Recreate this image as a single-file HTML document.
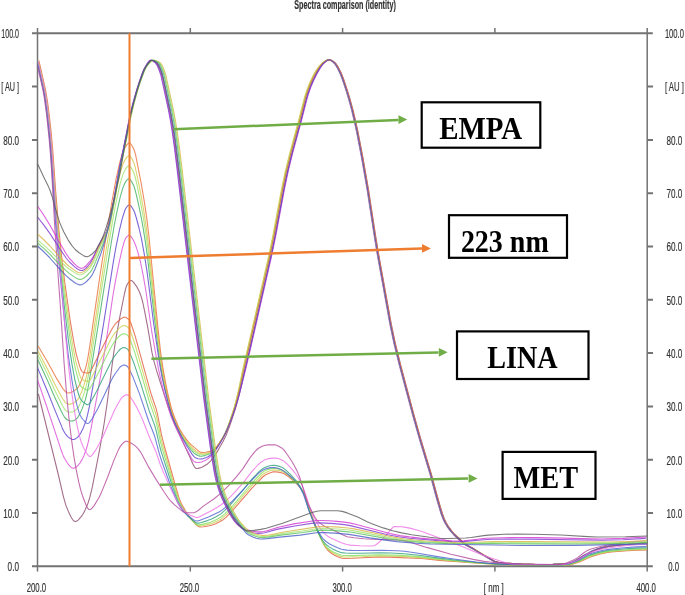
<!DOCTYPE html>
<html><head><meta charset="utf-8">
<style>
html,body{margin:0;padding:0;background:#fff;width:685px;height:595px;overflow:hidden}
svg{display:block;will-change:transform}
.ax{font-family:"Liberation Sans",sans-serif;font-size:12px;fill:#333;stroke:#333;stroke-width:0.18px}
.bx{font-family:"Liberation Serif",serif;font-weight:bold;fill:#000}
</style></head><body>
<svg width="685" height="595" viewBox="0 0 685 595">
<rect width="685" height="595" fill="#fff"/>
<text class="ax" x="294.3" y="8.7" font-size="10" font-weight="bold" fill="#111" textLength="101.5" lengthAdjust="spacingAndGlyphs">Spectra comparison (identity)</text>
<g stroke="#737373" fill="none">
<path stroke-width="2.1" d="M32 33.3H652.8M32 566.3H652.8"/>
<path stroke-width="1.5" d="M37.5 28V571.5M647.2 28V571.5"/>
<path stroke-width="2" d="M32 86.6H37.5M32 139.9H37.5M32 193.2H37.5M32 246.5H37.5M32 299.8H37.5M32 353.1H37.5M32 406.4H37.5M32 459.7H37.5M32 513H37.5"/>
<path stroke-width="2" d="M647.2 86.6H653M647.2 139.9H653M647.2 193.2H653M647.2 246.5H653M647.2 299.8H653M647.2 353.1H653M647.2 406.4H653M647.2 459.7H653M647.2 513H653"/>
<path stroke-width="1.5" d="M190.3 566.3V571.5M342.6 566.3V571.5M494.9 566.3V571.5M190.3 33.3V28M342.6 33.3V28M494.9 33.3V28"/>
</g>
<g class="ax" text-anchor="end">
<text x="19" y="38.1" textLength="17.7" lengthAdjust="spacingAndGlyphs">100.0</text>
<text x="19" y="91.4" textLength="17.7" lengthAdjust="spacingAndGlyphs">[ AU ]</text>
<text x="19" y="144.7" textLength="15.8" lengthAdjust="spacingAndGlyphs">80.0</text>
<text x="19" y="198" textLength="15.8" lengthAdjust="spacingAndGlyphs">70.0</text>
<text x="19" y="251.3" textLength="15.8" lengthAdjust="spacingAndGlyphs">60.0</text>
<text x="19" y="304.6" textLength="15.8" lengthAdjust="spacingAndGlyphs">50.0</text>
<text x="19" y="357.9" textLength="15.8" lengthAdjust="spacingAndGlyphs">40.0</text>
<text x="19" y="411.2" textLength="15.8" lengthAdjust="spacingAndGlyphs">30.0</text>
<text x="19" y="464.5" textLength="15.8" lengthAdjust="spacingAndGlyphs">20.0</text>
<text x="19" y="517.8" textLength="15.8" lengthAdjust="spacingAndGlyphs">10.0</text>
<text x="19" y="571.1" textLength="11.4" lengthAdjust="spacingAndGlyphs">0.0</text>
</g>
<g class="ax" text-anchor="middle">
<text x="674.4" y="38.1" textLength="19" lengthAdjust="spacingAndGlyphs">100.0</text>
<text x="674.4" y="91.4" textLength="19" lengthAdjust="spacingAndGlyphs">[ AU ]</text>
<text x="674.4" y="144.7" textLength="15.8" lengthAdjust="spacingAndGlyphs">80.0</text>
<text x="674.4" y="198" textLength="15.8" lengthAdjust="spacingAndGlyphs">70.0</text>
<text x="674.4" y="251.3" textLength="15.8" lengthAdjust="spacingAndGlyphs">60.0</text>
<text x="674.4" y="304.6" textLength="15.8" lengthAdjust="spacingAndGlyphs">50.0</text>
<text x="674.4" y="357.9" textLength="15.8" lengthAdjust="spacingAndGlyphs">40.0</text>
<text x="674.4" y="411.2" textLength="15.8" lengthAdjust="spacingAndGlyphs">30.0</text>
<text x="674.4" y="464.5" textLength="15.8" lengthAdjust="spacingAndGlyphs">20.0</text>
<text x="674.4" y="517.8" textLength="15.8" lengthAdjust="spacingAndGlyphs">10.0</text>
<text x="673.6" y="571.1" textLength="10.8" lengthAdjust="spacingAndGlyphs">0.0</text>
<text x="36.4" y="591.5" textLength="19.5" lengthAdjust="spacingAndGlyphs">200.0</text>
<text x="189.4" y="591.5" textLength="19.5" lengthAdjust="spacingAndGlyphs">250.0</text>
<text x="342.2" y="591.5" textLength="19.5" lengthAdjust="spacingAndGlyphs">300.0</text>
<text x="493.8" y="591.5" textLength="20" lengthAdjust="spacingAndGlyphs">[ nm ]</text>
<text x="646.2" y="591.5" textLength="19.5" lengthAdjust="spacingAndGlyphs">400.0</text>
</g>
<defs><clipPath id="pc"><rect x="37.6" y="20" width="609.4" height="560"/></clipPath></defs>
<g id="curves" clip-path="url(#pc)">
<path d="M38.4 394.0L58.4 475.0 63.4 496.6 65.9 505.4 68.4 511.4 70.9 516.7 72.4 519.3 73.9 521.0 74.9 521.5 75.4 521.6 76.9 521.1 78.4 519.8 81.4 516.4 82.9 514.2 84.4 511.6 87.9 503.5 89.9 497.2 92.4 486.7 99.9 448.1 103.9 425.0 106.9 404.8 113.9 351.5 116.4 335.9 119.4 319.0 124.4 294.0 125.9 287.6 126.9 285.0 128.9 281.9 130.4 280.5 131.4 280.5 132.4 281.1 133.4 282.1 136.9 286.9 139.4 291.8 141.4 297.1 142.9 303.0 144.9 312.7 147.9 328.4 151.9 352.2 153.9 361.1 156.9 371.6 166.4 401.5 170.9 414.7 174.4 423.6 189.4 456.0 192.9 464.0 194.4 466.8 195.4 468.0 196.4 468.5 197.9 468.4 199.9 467.9 202.4 466.9 207.4 464.0 208.9 462.7 210.9 460.7 214.4 456.1 217.9 450.6 222.9 441.8 225.9 435.7 228.8 428.4 231.7 420.1 235.6 408.0 238.0 399.4 240.9 387.6 252.2 338.5 271.2 254.9 275.2 235.3 283.7 189.7 287.7 170.6 292.2 152.3 300.7 121.1 305.7 101.4 307.7 94.2 310.2 87.1 313.2 80.0 316.7 73.1 319.8 68.1 322.9 64.0 325.6 61.7 327.1 60.6 328.7 59.9 329.8 59.7 330.8 59.9 332.9 60.9 335.9 63.5 337.9 66.5 340.9 72.3 343.9 79.8 347.4 90.3 349.9 98.6 352.9 109.7 355.4 120.0 357.9 131.4 362.9 157.3 368.4 188.8 375.9 237.5 378.9 255.6 391.4 324.7 395.4 343.6 400.9 365.8 414.4 416.4 420.9 439.4 431.4 474.1 437.4 496.5 440.4 506.9 442.4 513.5 444.4 518.9 446.4 523.0 448.9 527.2 451.9 531.2 454.9 534.5 463.4 542.5 466.9 545.1 474.4 549.1 485.9 556.1 494.9 561.2 496.9 561.9 498.9 562.3 506.9 563.2 522.9 564.1 536.9 564.5 553.9 564.4 567.9 563.9 571.4 562.9 576.9 560.5 585.4 555.3 593.4 551.1 598.4 549.1 603.4 547.6 609.9 546.3 618.9 545.2 635.4 543.7 647.9 543.0" stroke="#8c4a6e" stroke-width="1.10" fill="none" stroke-linejoin="round" opacity="0.80"/>
<path d="M36.9 378.2L46.9 407.0 61.4 450.8 62.9 454.9 64.4 458.3 66.9 462.3 68.9 465.2 70.9 467.2 72.4 468.1 73.9 468.2 76.4 466.9 78.4 465.0 80.4 462.4 81.9 459.9 83.9 455.7 86.4 449.0 88.4 441.4 90.9 429.3 97.4 394.0 101.9 368.3 104.9 349.8 112.9 295.7 115.9 278.6 119.4 261.1 122.4 248.2 124.4 241.1 125.4 238.8 126.9 236.6 128.4 235.4 129.4 235.3 130.4 235.9 131.4 237.1 133.4 240.2 134.4 242.3 135.9 246.2 137.9 252.4 140.4 261.5 142.9 273.9 145.9 291.0 151.9 332.5 158.4 368.6 161.4 382.4 164.4 394.4 168.4 408.4 171.4 417.4 175.4 426.8 183.4 443.3 191.4 458.1 192.9 460.4 193.9 461.5 194.9 462.1 197.4 462.5 199.4 462.4 201.4 462.0 204.4 460.8 206.4 459.8 208.9 458.0 211.4 455.7 214.9 451.2 218.9 445.0 222.9 437.9 226.6 430.3 230.3 421.2 234.6 409.5 237.3 401.3 240.0 391.8 245.9 368.5 250.9 347.1 271.4 257.2 275.9 235.3 284.9 187.1 288.4 170.6 292.9 152.3 301.4 121.1 306.4 101.4 308.4 94.2 310.9 87.1 313.9 80.0 316.9 74.0 321.1 66.6 323.4 63.4 326.0 61.0 327.8 59.9 328.7 59.7 329.6 59.9 331.0 60.6 332.9 62.1 334.9 64.2 337.4 68.3 339.9 73.4 342.9 81.3 346.4 91.9 348.9 100.3 351.4 109.7 353.9 120.0 356.4 131.4 361.4 157.3 366.9 188.8 374.4 237.5 377.4 255.6 389.9 324.7 393.9 343.6 399.4 365.8 412.9 416.4 419.4 439.4 429.9 474.1 435.9 496.5 438.9 506.9 440.9 513.5 442.9 518.9 444.9 523.0 447.4 527.2 450.4 531.2 453.4 534.5 461.9 542.5 465.4 545.1 472.9 549.1 484.4 556.1 493.4 561.2 495.4 561.9 497.4 562.3 505.4 563.2 521.4 564.1 535.4 564.5 552.4 564.4 566.4 563.9 569.9 562.9 575.4 560.5 583.9 555.3 591.9 551.1 596.9 549.1 601.9 547.6 608.4 546.3 617.4 545.2 633.9 543.7 646.4 543.0" stroke="#d94fd6" stroke-width="1.10" fill="none" stroke-linejoin="round" opacity="0.80"/>
<path d="M37.3 358.5L46.8 378.9 54.3 396.2 61.3 411.3 63.3 415.2 64.8 417.5 66.8 419.5 68.8 420.5 70.8 421.0 72.8 420.9 74.8 420.0 76.8 418.5 78.3 416.6 79.8 414.0 82.3 408.4 85.3 399.9 86.8 394.0 88.3 386.5 90.3 374.7 111.3 242.5 114.3 225.0 116.8 212.4 120.3 196.6 122.8 188.1 124.3 184.3 125.8 181.4 126.8 180.1 127.8 179.2 128.8 178.9 129.3 179.0 130.3 179.7 131.8 181.9 133.8 185.8 134.8 188.8 136.3 194.6 139.3 207.8 142.3 223.0 145.3 241.3 147.3 255.4 153.8 312.5 157.8 345.7 159.8 360.3 161.8 372.3 164.3 385.1 167.8 400.2 170.8 411.1 172.8 416.8 175.3 423.0 177.8 428.5 180.8 434.3 183.8 439.4 186.8 444.0 190.8 449.5 193.8 452.9 195.3 454.1 197.8 455.5 199.8 456.1 201.3 456.2 204.8 455.6 207.8 454.6 211.3 452.9 213.3 451.3 215.8 448.4 218.8 444.1 222.8 437.6 225.3 432.8 228.1 425.9 231.0 418.1 234.3 408.0 236.7 399.7 239.5 387.9 243.8 368.5 251.3 336.3 269.8 254.9 273.8 235.3 282.3 189.7 286.3 170.6 290.8 152.3 299.3 121.1 304.3 101.4 306.3 94.2 308.8 87.1 311.8 80.0 315.3 73.1 318.4 68.1 321.6 64.0 324.3 61.7 325.9 60.6 327.5 59.9 328.6 59.7 329.7 59.9 331.8 60.9 334.8 63.5 336.8 66.5 339.8 72.3 342.8 79.8 346.3 90.3 348.8 98.6 351.8 109.7 354.3 120.0 356.8 131.4 361.8 157.3 367.3 188.8 374.8 237.5 377.8 255.6 390.3 324.7 394.3 343.6 399.8 365.8 413.3 416.4 419.8 439.4 430.3 474.1 436.3 496.5 439.3 506.9 441.3 513.5 443.3 518.9 445.3 523.0 447.8 527.2 450.8 531.2 453.8 534.5 462.3 542.5 465.8 545.1 473.3 549.1 484.8 556.1 493.8 561.2 495.8 561.9 497.8 562.3 505.8 563.2 521.8 564.1 535.8 564.5 552.8 564.4 566.8 563.9 570.3 562.9 575.8 560.5 584.3 555.3 592.3 551.1 597.3 549.1 602.3 547.6 608.8 546.3 617.8 545.2 634.3 543.7 646.8 543.0" stroke="#3fae62" stroke-width="1.10" fill="none" stroke-linejoin="round" opacity="0.80"/>
<path d="M37.5 354.0L47.0 373.3 55.5 391.8 62.5 405.8 65.0 409.7 66.5 411.1 68.5 412.0 71.0 412.2 73.0 411.7 75.0 410.6 77.0 409.0 78.5 406.9 80.0 404.0 82.5 398.0 85.0 390.6 86.5 384.8 88.0 377.3 90.0 365.3 100.5 296.2 110.0 236.6 113.5 215.7 116.5 200.1 120.0 184.4 122.5 175.6 124.5 170.9 126.0 168.2 127.0 167.0 128.0 166.2 129.0 165.9 129.5 166.1 131.0 167.5 132.5 170.1 134.0 173.3 135.0 176.5 136.5 182.7 140.0 199.3 143.0 215.5 146.0 234.6 148.0 249.9 157.5 337.3 160.0 357.3 162.0 370.0 164.5 383.4 167.5 397.0 170.5 408.6 172.5 414.7 175.0 421.2 177.5 426.8 180.5 432.7 183.5 437.8 187.0 442.9 191.0 447.9 194.0 451.0 196.0 452.7 198.5 454.1 200.5 454.8 202.0 454.8 206.0 454.2 209.5 453.0 212.0 451.9 214.0 450.2 216.5 447.2 219.0 443.7 222.5 438.2 225.0 433.6 227.8 427.0 230.5 419.4 234.2 408.0 236.0 401.5 238.8 390.0 243.4 368.5 269.4 254.9 273.4 235.3 281.9 189.7 285.4 172.8 289.9 154.3 299.4 119.2 305.4 95.9 307.4 89.8 310.4 82.2 313.4 75.9 316.4 70.5 319.7 65.9 322.5 62.9 325.3 61.0 327.0 60.1 328.7 59.7 329.8 59.9 332.0 60.9 335.0 63.5 337.0 66.5 340.0 72.3 343.0 79.8 346.5 90.3 349.0 98.6 352.0 109.7 354.5 120.0 357.0 131.4 362.0 157.3 367.5 188.8 375.0 237.5 378.0 255.6 390.5 324.7 394.5 343.6 400.0 365.8 413.5 416.4 420.0 439.4 430.5 474.1 436.5 496.5 439.5 506.9 441.5 513.5 443.5 518.9 445.5 523.0 448.0 527.2 451.0 531.2 454.0 534.5 462.5 542.5 466.0 545.1 473.5 549.1 485.0 556.1 494.0 561.2 496.0 561.9 498.0 562.3 506.0 563.2 522.0 564.1 536.0 564.5 553.0 564.4 567.0 563.9 570.5 562.9 576.0 560.5 584.5 555.3 592.5 551.1 597.5 549.1 602.5 547.6 609.0 546.3 618.0 545.2 634.5 543.7 647.0 543.0" stroke="#9ee36a" stroke-width="1.10" fill="none" stroke-linejoin="round" opacity="0.80"/>
<path d="M37.7 350.5L47.2 368.5 55.7 386.0 62.7 398.8 65.2 402.4 66.7 403.6 68.2 404.1 70.2 404.1 72.7 403.4 74.7 402.3 76.7 400.8 78.2 398.9 79.7 396.2 82.2 390.2 85.2 381.1 86.7 375.1 88.2 367.2 104.2 261.6 112.2 212.6 116.2 191.1 120.2 173.3 121.7 167.7 122.7 164.8 125.2 159.6 126.7 157.4 128.2 156.1 129.2 155.9 129.7 156.0 131.2 157.6 132.7 160.3 134.2 163.6 135.2 167.0 140.2 190.8 143.7 210.4 146.2 226.9 148.2 242.5 157.7 333.8 160.2 355.0 162.2 368.2 164.7 382.1 167.7 396.1 170.7 408.0 172.7 414.2 175.2 420.7 177.7 426.4 180.2 431.3 183.2 436.3 186.7 441.4 190.2 445.6 193.2 448.6 195.7 450.9 197.7 452.3 199.7 453.4 201.7 453.8 205.2 453.5 209.2 452.5 212.2 451.3 214.2 449.7 216.7 446.9 219.2 443.4 222.7 438.0 225.2 433.4 227.9 426.9 230.5 419.3 234.1 408.0 235.8 401.5 238.9 388.0 242.9 368.5 250.9 334.1 269.4 252.6 272.9 235.3 281.4 189.7 284.9 172.8 289.4 154.3 298.9 119.2 304.9 95.9 306.9 89.8 309.9 82.2 312.9 75.9 315.9 70.5 319.4 65.9 322.3 62.9 325.2 61.0 327.0 60.1 328.7 59.7 329.9 59.9 332.2 60.9 335.2 63.5 337.2 66.5 340.2 72.3 343.2 79.8 346.7 90.3 349.2 98.6 352.2 109.7 354.7 120.0 357.2 131.4 362.2 157.3 367.7 188.8 375.2 237.5 378.2 255.6 390.7 324.7 394.7 343.6 400.2 365.8 413.7 416.4 420.2 439.4 430.7 474.1 436.7 496.5 439.7 506.9 441.7 513.5 443.7 518.9 445.7 523.0 448.2 527.2 451.2 531.2 454.2 534.5 462.7 542.5 466.2 545.1 473.7 549.1 485.2 556.1 494.2 561.2 496.2 561.9 498.2 562.3 506.2 563.2 522.2 564.1 536.2 564.5 553.2 564.4 567.2 563.9 570.7 562.9 576.2 560.5 584.7 555.3 592.7 551.1 597.7 549.1 602.7 547.6 609.2 546.3 618.2 545.2 634.7 543.7 647.2 543.0" stroke="#d6c84a" stroke-width="1.10" fill="none" stroke-linejoin="round" opacity="0.80"/>
<path d="M38.1 346.0L47.6 362.0 56.1 377.6 62.6 388.1 64.1 390.2 65.6 391.8 67.1 392.8 68.6 393.0 70.6 392.6 73.1 391.4 77.1 388.6 78.6 386.6 80.1 383.7 82.6 377.4 85.6 368.0 86.6 364.1 88.1 356.5 90.1 343.9 100.1 274.7 104.1 248.7 112.1 200.5 116.1 178.9 120.1 161.2 122.6 152.3 124.6 148.2 127.1 144.4 128.6 143.2 129.6 143.0 130.1 143.3 131.6 145.0 133.1 147.8 134.6 151.3 135.6 154.8 141.1 182.8 144.6 203.4 147.1 220.7 149.1 237.7 158.1 329.5 160.6 352.0 162.6 365.9 165.1 380.4 168.1 395.0 171.1 407.1 172.6 412.0 175.1 418.8 177.6 424.7 180.1 429.8 182.6 434.0 185.6 438.3 188.6 442.1 191.1 444.7 198.1 450.7 200.1 451.9 201.6 452.4 203.1 452.5 205.6 452.3 211.1 451.1 213.1 450.3 215.1 448.7 217.6 445.8 220.6 441.5 223.6 436.8 226.1 432.2 228.9 425.5 231.6 417.9 234.9 408.0 237.2 399.7 240.0 388.0 244.2 368.6 270.2 254.9 274.2 235.3 282.7 189.7 286.2 172.8 290.7 154.3 300.2 119.2 306.2 95.9 308.2 89.8 311.2 82.2 314.2 75.9 317.2 70.5 320.5 65.9 323.2 62.9 326.0 61.0 327.6 60.1 329.3 59.7 330.4 59.9 332.6 60.9 335.6 63.5 337.6 66.5 340.6 72.3 343.6 79.8 347.1 90.3 349.6 98.6 352.6 109.7 355.1 120.0 357.6 131.4 362.6 157.3 368.1 188.8 375.6 237.5 378.6 255.6 391.1 324.7 395.1 343.6 400.6 365.8 414.1 416.4 420.6 439.4 431.1 474.1 437.1 496.5 440.1 506.9 442.1 513.5 444.1 518.9 446.1 523.0 448.6 527.2 451.6 531.2 454.6 534.5 463.1 542.5 466.6 545.1 474.1 549.1 485.6 556.1 494.6 561.2 496.6 561.9 498.6 562.3 506.6 563.2 522.6 564.1 536.6 564.5 553.6 564.4 567.6 563.9 571.1 562.9 576.6 560.5 585.1 555.3 593.1 551.1 598.1 549.1 603.1 547.6 609.6 546.3 618.6 545.2 635.1 543.7 647.6 543.0" stroke="#e8703a" stroke-width="1.10" fill="none" stroke-linejoin="round" opacity="0.80"/>
<path d="M37.5 367.6L47.0 390.2 54.0 407.9 62.0 427.4 63.5 430.7 65.0 433.3 67.5 436.3 69.5 438.1 71.5 439.2 72.5 439.5 73.5 439.5 75.0 439.1 77.5 437.4 79.0 435.6 81.0 432.6 83.5 427.4 86.0 420.8 87.5 415.2 89.5 405.8 95.5 371.6 103.5 324.3 113.5 260.8 116.0 246.9 119.5 229.9 122.5 217.6 125.0 210.0 126.0 208.0 127.5 206.0 129.0 205.0 130.0 205.2 131.0 206.1 132.5 208.3 134.0 211.0 135.0 213.5 136.5 218.5 139.0 228.0 141.5 238.9 144.0 252.6 147.0 271.3 153.5 322.3 159.5 363.5 162.0 377.0 164.5 388.5 168.0 402.5 171.0 412.7 173.0 418.2 175.5 424.3 181.5 436.6 187.0 446.3 192.0 454.1 194.5 457.1 195.5 457.8 198.0 458.7 200.0 459.0 202.0 458.9 205.5 457.8 208.0 456.7 211.0 454.8 213.0 453.0 216.0 449.4 220.0 443.2 223.5 437.3 226.5 431.0 229.6 423.7 233.2 414.0 236.2 404.8 238.8 395.8 242.3 381.5 251.4 342.8 270.9 257.2 275.4 235.3 284.4 187.1 287.9 170.6 292.4 152.3 300.9 121.1 305.9 101.4 307.9 94.2 310.4 87.1 313.4 80.0 316.4 74.0 320.3 67.4 322.8 64.0 325.7 61.3 328.1 59.9 329.1 59.7 330.1 59.9 331.5 60.6 333.0 61.7 334.5 63.0 335.5 64.2 338.0 68.3 340.5 73.4 343.5 81.3 347.0 91.9 349.5 100.3 352.0 109.7 354.5 120.0 357.0 131.4 362.0 157.3 367.5 188.8 375.0 237.5 378.0 255.6 390.5 324.7 394.5 343.6 400.0 365.8 413.5 416.4 420.0 439.4 430.5 474.1 436.5 496.5 439.5 506.9 441.5 513.5 443.5 518.9 445.5 523.0 448.0 527.2 451.0 531.2 454.0 534.5 462.5 542.5 466.0 545.1 473.5 549.1 485.0 556.1 494.0 561.2 496.0 561.9 498.0 562.3 506.0 563.2 522.0 564.1 536.0 564.5 553.0 564.4 567.0 563.9 570.5 562.9 576.0 560.5 584.5 555.3 592.5 551.1 597.5 549.1 602.5 547.6 609.0 546.3 618.0 545.2 634.5 543.7 647.0 543.0" stroke="#5b3fcf" stroke-width="1.10" fill="none" stroke-linejoin="round" opacity="0.80"/>
<path d="M38.7 60.5L40.2 66.2 45.7 90.8 47.7 103.1 49.2 114.8 51.2 133.1 52.7 149.6 55.7 191.9 58.7 228.0 61.7 257.6 64.7 282.0 70.2 320.7 73.7 341.5 76.2 354.1 79.7 366.4 81.2 370.2 82.2 371.7 82.7 372.0 85.2 372.7 87.7 373.0 88.7 372.9 89.7 372.2 90.7 370.9 92.2 368.3 104.2 343.9 110.7 331.3 112.7 327.7 114.7 324.7 116.2 323.0 120.2 319.3 122.2 317.9 123.7 317.3 125.2 317.2 126.2 317.6 128.2 319.0 129.7 320.7 131.2 324.0 135.2 336.1 149.7 389.1 151.7 395.8 156.2 408.9 157.7 415.1 161.2 433.4 163.2 442.0 174.2 481.5 178.7 496.9 180.2 501.1 181.7 504.4 185.7 511.2 190.2 517.8 195.2 523.6 197.2 525.6 198.7 526.6 200.2 527.0 203.7 526.7 209.2 525.8 212.2 525.0 215.7 523.7 219.7 521.8 222.7 520.1 226.2 517.1 232.7 510.4 252.2 487.9 262.7 477.0 265.7 474.8 269.7 472.9 272.7 471.9 275.2 471.7 278.2 472.1 282.2 473.0 283.7 473.5 285.7 474.7 288.7 476.9 295.2 482.4 298.2 485.4 300.7 488.3 303.7 492.6 305.7 496.3 307.2 500.6 310.7 512.5 314.7 523.6 321.2 539.1 324.7 546.2 325.7 547.7 327.2 549.5 329.2 551.5 331.7 553.5 334.2 555.0 337.7 556.7 340.2 557.7 342.2 558.3 344.2 558.5 352.2 558.3 378.7 557.0 388.7 557.1 421.7 558.5 439.7 560.4 450.2 561.2 482.2 563.5 501.7 564.5 519.2 565.0 567.7 565.0 569.7 564.8 572.2 564.3 580.2 561.7 589.7 557.3 592.7 556.2 600.2 554.0 606.2 552.7 611.2 552.0 627.2 550.7 638.2 550.2 648.2 550.0" stroke="#e25a3c" stroke-width="1.10" fill="none" stroke-linejoin="round" opacity="0.80"/>
<path d="M38.1 60.5L39.6 66.2 45.1 90.8 47.1 103.1 48.6 114.8 50.6 133.1 52.1 149.6 55.6 198.8 58.6 234.7 61.6 264.2 66.1 300.8 70.1 329.6 73.6 350.5 76.1 362.8 79.6 374.9 81.1 378.4 82.1 379.5 84.6 380.7 87.1 381.4 88.1 381.5 89.1 381.0 90.1 379.9 91.6 377.5 110.1 340.7 112.6 336.2 114.6 333.2 119.6 327.9 121.6 326.4 123.1 325.7 124.6 325.4 126.1 325.9 127.6 327.0 129.1 328.5 130.1 330.4 131.1 333.0 135.1 344.7 149.6 395.6 151.1 400.4 155.6 413.2 157.1 419.2 160.6 436.7 162.6 444.9 173.6 482.9 178.1 497.5 179.6 501.5 181.1 504.6 183.1 508.2 186.1 512.7 190.1 518.0 194.6 522.9 196.6 524.8 198.1 525.7 199.6 525.9 203.1 525.5 208.6 524.4 211.6 523.5 215.1 522.1 218.6 520.4 221.6 518.7 225.6 515.4 232.1 508.7 251.6 485.9 261.6 475.5 264.6 473.2 268.6 471.2 272.1 470.1 275.1 470.0 278.1 470.4 281.6 471.3 283.1 471.9 285.1 473.0 288.1 475.4 294.1 480.7 297.1 483.7 299.6 486.6 302.6 491.0 305.1 495.8 306.6 500.1 310.1 512.0 314.1 522.8 316.6 529.0 320.6 538.0 324.1 544.8 325.1 546.3 326.6 548.0 328.6 549.9 331.1 551.8 333.6 553.3 337.1 555.0 339.6 556.1 341.6 556.7 343.6 556.9 349.6 557.0 362.1 556.7 378.1 555.9 391.1 556.1 407.6 556.8 420.1 557.6 447.1 560.5 477.6 563.0 490.1 563.8 506.6 564.6 517.1 564.9 566.6 564.9 568.6 564.7 571.1 564.2 579.1 561.6 582.1 560.3 589.1 556.9 592.1 555.7 599.1 553.7 605.1 552.4 610.6 551.5 626.1 550.2 637.1 549.6 647.6 549.4" stroke="#c9cf4e" stroke-width="1.10" fill="none" stroke-linejoin="round" opacity="0.80"/>
<path d="M37.5 60.5L39.0 66.2 44.5 90.8 46.5 103.1 48.5 119.1 50.0 133.1 51.5 149.6 55.5 206.1 58.5 241.6 62.0 275.5 66.5 313.0 70.0 338.6 73.5 359.5 75.5 369.4 79.0 382.0 80.5 385.7 81.0 386.5 82.0 387.4 84.0 388.7 87.0 390.0 88.0 390.0 89.0 389.4 90.0 388.2 91.5 385.8 98.0 373.4 110.5 348.2 114.0 342.2 116.5 339.2 119.5 336.0 121.0 334.8 122.5 334.0 124.0 333.7 125.5 334.0 127.0 334.9 128.5 336.3 129.5 338.2 130.5 340.6 134.5 351.6 141.5 374.7 149.0 400.5 150.5 405.1 155.0 417.6 156.5 423.3 160.5 442.1 162.0 447.8 173.0 484.2 177.5 498.1 179.0 501.9 180.5 504.9 182.5 508.3 185.0 512.0 189.0 517.1 195.5 523.6 197.5 524.7 199.0 524.9 202.0 524.4 207.5 523.1 210.5 522.2 214.0 520.8 217.5 519.0 221.0 517.0 225.0 513.6 232.0 506.5 251.5 483.5 260.5 474.0 264.0 471.3 267.5 469.6 271.5 468.4 274.5 468.2 277.5 468.6 281.0 469.6 283.0 470.4 284.5 471.4 287.0 473.4 293.0 478.9 296.0 482.0 298.5 485.0 301.5 489.4 304.0 494.1 305.5 498.1 309.5 511.4 313.0 520.8 315.5 527.0 319.0 534.7 323.0 542.6 325.5 546.0 328.0 548.3 330.5 550.2 333.0 551.7 337.0 553.6 339.5 554.6 341.5 555.2 346.0 555.5 352.0 555.6 380.0 554.7 401.5 555.4 419.0 556.6 447.0 560.0 476.0 562.7 488.0 563.6 505.0 564.5 516.0 564.8 562.5 564.9 567.5 564.7 572.0 563.6 579.5 560.9 587.5 556.9 590.5 555.6 598.0 553.4 604.5 551.9 610.0 551.1 626.0 549.7 637.0 549.0 647.0 548.8" stroke="#83e05e" stroke-width="1.10" fill="none" stroke-linejoin="round" opacity="0.80"/>
<path d="M37.0 60.5L38.5 66.2 44.0 90.8 45.5 99.7 47.0 110.6 49.0 128.2 51.0 149.6 55.0 207.4 57.5 238.5 60.0 265.2 64.5 308.1 68.5 341.0 72.0 364.3 75.0 380.5 77.5 390.5 79.0 395.5 80.5 399.0 81.5 400.3 83.0 401.9 85.5 403.8 87.0 404.7 88.0 404.6 89.0 404.0 90.0 402.9 91.0 401.4 96.5 391.5 110.5 363.0 114.0 356.8 119.0 350.5 120.5 349.0 122.0 348.1 123.5 347.6 125.0 347.7 126.5 348.4 128.0 349.6 129.0 351.2 130.0 353.4 134.5 364.8 141.0 384.3 149.0 410.2 154.5 424.9 156.0 430.2 160.0 447.5 161.5 452.7 172.0 485.0 177.0 499.1 178.5 502.6 180.0 505.3 182.0 508.5 184.5 512.0 188.0 516.1 194.0 521.4 195.5 522.5 197.0 523.1 198.5 523.1 200.5 522.7 207.5 520.6 211.5 519.0 216.0 516.8 220.5 514.1 224.5 510.7 232.0 503.0 243.5 489.4 251.0 480.2 259.5 471.2 263.0 468.4 266.5 466.7 270.5 465.5 274.0 465.3 276.5 465.6 279.5 466.4 282.0 467.3 284.0 468.6 286.5 470.7 291.5 475.6 296.5 481.2 300.0 486.3 303.5 493.1 305.0 497.3 309.0 510.5 312.5 519.6 315.0 525.6 317.5 530.9 320.0 536.0 322.0 539.5 323.5 541.7 325.0 543.5 327.0 545.3 329.5 547.1 332.5 548.9 337.0 551.0 339.5 552.0 341.5 552.6 345.5 553.0 349.5 553.2 361.0 553.3 380.0 552.8 391.0 553.0 404.5 553.7 419.0 555.2 439.0 558.1 456.5 560.2 480.5 562.8 496.0 563.9 516.5 564.7 560.5 564.9 566.5 564.5 571.0 563.5 578.5 560.7 587.0 556.2 590.0 554.9 597.0 552.8 603.5 551.3 609.5 550.3 625.5 548.8 636.5 548.1 646.5 547.8" stroke="#2e9f78" stroke-width="1.10" fill="none" stroke-linejoin="round" opacity="0.80"/>
<path d="M36.5 60.5L38.0 66.2 43.5 90.8 45.5 103.1 47.0 114.8 49.0 133.1 50.5 149.6 55.0 216.2 57.5 247.4 65.0 326.6 68.5 356.9 72.0 380.7 73.5 389.5 75.0 397.0 77.0 405.4 79.0 412.4 80.0 415.0 81.5 417.6 83.0 419.5 86.0 422.8 86.5 423.2 87.5 423.5 88.5 423.3 89.5 422.6 92.0 419.0 98.0 408.3 111.0 381.0 113.0 377.1 115.5 373.2 119.5 367.7 120.5 366.7 122.0 365.7 123.5 365.1 124.5 365.1 126.0 365.5 127.5 366.5 129.0 368.7 133.0 377.1 139.5 393.9 148.5 420.5 154.5 435.7 159.5 454.3 161.5 460.5 171.0 486.7 175.0 496.8 177.5 502.5 180.5 507.4 184.5 512.6 188.0 515.8 194.5 520.4 196.0 520.9 197.5 521.0 200.0 520.2 208.5 516.9 219.5 511.7 222.0 510.1 224.5 508.1 232.5 501.0 243.0 490.0 250.0 482.0 257.5 474.3 260.0 472.1 263.0 470.0 266.5 468.6 270.5 467.6 274.5 467.6 277.0 468.0 280.5 469.2 282.5 470.3 285.5 472.4 290.5 476.5 293.5 479.2 296.0 481.9 298.5 485.1 300.5 488.4 303.0 493.4 304.5 497.4 308.5 509.4 314.0 522.7 319.0 532.6 321.0 535.9 323.0 538.7 326.0 541.5 330.0 544.3 337.5 547.8 341.5 549.2 346.5 550.1 351.5 550.4 361.0 550.5 382.0 550.3 397.0 550.8 404.5 551.3 415.0 552.7 437.5 556.6 452.0 558.8 476.0 562.0 488.0 563.2 503.5 564.1 515.0 564.6 559.5 564.8 565.5 564.4 570.5 563.1 577.5 560.4 585.5 555.8 588.5 554.3 595.0 552.3 602.0 550.5 608.5 549.4 624.5 547.7 636.0 546.9 646.0 546.6" stroke="#4f62d2" stroke-width="1.10" fill="none" stroke-linejoin="round" opacity="0.80"/>
<path d="M37.8 60.5L39.3 66.2 44.3 88.4 45.3 93.6 47.8 110.6 50.3 133.1 52.3 156.1 56.3 219.6 59.3 259.3 65.8 337.9 68.3 363.9 70.8 385.8 73.3 403.8 75.3 416.2 77.3 426.5 79.8 437.2 81.3 442.3 83.3 447.2 86.8 453.5 87.8 454.9 88.8 455.9 89.8 456.4 90.3 456.4 91.3 455.9 92.3 454.9 95.8 449.9 99.3 443.8 103.3 435.7 114.3 410.7 116.3 406.7 120.3 399.7 121.8 397.7 123.8 396.0 125.8 394.9 127.3 394.9 128.3 395.1 129.3 395.8 130.8 397.7 132.8 400.6 136.3 406.5 140.8 415.6 143.3 421.5 149.8 438.1 155.8 451.4 160.3 464.5 162.8 470.9 171.8 491.1 176.8 500.8 179.8 505.6 183.3 509.9 185.8 512.5 186.8 513.3 188.8 514.4 195.3 517.2 196.3 517.5 197.8 517.4 200.3 516.5 204.8 514.0 211.3 510.7 217.3 507.3 220.8 505.0 223.8 502.7 230.8 496.3 235.8 491.1 244.3 481.4 251.8 471.7 257.8 465.0 260.8 462.3 264.3 460.1 267.3 458.9 271.8 458.1 275.8 458.1 278.3 458.5 281.3 459.7 283.8 461.1 285.8 462.8 288.3 465.2 293.3 470.9 295.8 474.0 298.3 477.7 300.8 482.2 302.8 486.8 304.8 492.1 309.3 505.9 313.3 515.4 315.8 520.7 317.8 524.4 320.3 528.5 322.3 531.2 325.3 534.4 327.8 536.2 330.3 537.7 341.3 542.8 346.8 544.5 350.3 545.1 359.8 545.8 372.3 546.0 373.8 545.8 376.3 544.5 379.3 542.0 386.3 535.2 391.3 529.0 393.3 527.1 394.3 526.6 395.3 526.5 401.3 526.8 405.8 527.4 410.8 528.4 416.8 530.0 423.3 532.0 460.8 545.9 478.8 553.5 484.8 555.9 501.8 561.5 507.3 563.1 511.8 564.0 515.8 564.3 560.3 564.7 563.3 564.5 566.8 564.0 572.3 562.3 576.3 560.7 578.8 559.5 586.3 554.6 589.3 553.0 594.3 551.2 601.3 549.3 609.3 547.8 625.3 545.8 636.8 544.8 647.3 544.4" stroke="#ef6fe6" stroke-width="1.10" fill="none" stroke-linejoin="round" opacity="0.80"/>
<path d="M36.1 60.5L37.6 66.2 42.6 88.4 44.1 96.5 46.6 114.8 49.1 138.3 50.6 156.0 51.6 170.5 55.1 233.0 60.6 310.0 64.1 363.3 67.1 400.1 69.6 424.3 72.1 443.9 74.1 457.5 76.1 469.1 78.6 481.3 80.6 489.6 82.6 496.0 86.1 505.2 87.6 508.1 88.6 509.2 89.1 509.5 90.1 509.5 91.1 509.0 92.1 508.1 94.1 505.6 98.6 498.3 100.6 494.3 103.1 488.4 107.6 477.2 113.6 461.1 118.6 449.4 120.1 446.7 122.1 444.2 124.1 442.2 125.6 441.3 126.6 441.2 127.6 441.4 130.6 442.8 134.6 445.4 136.6 447.2 138.6 449.3 140.1 451.3 141.6 453.7 148.1 466.1 155.1 477.9 163.6 491.2 168.1 497.8 171.1 501.5 174.6 504.8 183.1 511.8 184.6 512.5 185.6 512.7 193.6 512.7 194.6 512.5 196.1 511.8 198.1 510.5 203.1 506.4 214.1 498.8 220.1 493.9 228.1 486.2 236.1 477.2 242.6 469.1 250.1 457.6 255.1 451.4 258.1 448.5 262.1 446.3 265.1 445.2 268.1 444.9 274.6 444.8 276.6 445.3 278.6 446.2 282.1 448.3 283.6 449.7 285.6 452.2 287.6 455.0 291.6 461.0 294.1 465.2 297.1 471.1 299.1 475.8 301.1 481.7 306.1 498.4 308.1 503.9 313.1 514.1 315.1 517.5 317.1 520.4 318.6 522.1 320.1 523.4 324.6 526.3 335.1 531.0 343.1 535.1 347.1 536.7 354.1 537.8 363.6 538.7 373.1 539.2 396.1 539.9 400.1 540.1 403.6 540.6 410.1 542.2 426.6 547.4 451.1 554.2 473.1 559.4 484.1 561.4 495.6 562.7 508.6 563.6 517.6 564.0 536.1 564.3 558.6 564.5 562.6 564.0 567.1 562.7 574.6 559.5 577.6 557.6 583.6 553.0 586.6 550.9 589.6 549.6 595.6 547.7 600.6 546.5 605.6 545.5 622.6 542.9 635.1 541.5 645.6 541.0" stroke="#b44a9c" stroke-width="1.10" fill="none" stroke-linejoin="round" opacity="0.80"/>
<path d="M37.5 206.0L43.5 214.8 50.0 225.3 58.5 240.8 66.0 253.5 69.0 257.8 74.5 263.9 77.0 266.2 79.0 267.5 81.0 268.2 82.5 268.2 84.0 267.5 85.5 266.3 90.5 260.7 92.5 257.9 94.5 254.6 104.0 237.3 106.4 232.0 108.9 225.0 109.9 221.1 111.4 213.7 119.9 166.0 126.3 134.6 129.8 116.4 133.8 100.3 136.8 89.8 139.3 81.9 142.3 73.5 144.3 68.8 147.3 63.8 149.2 61.3 150.6 60.3 151.6 60.3 152.5 60.6 154.9 62.0 155.9 62.8 156.9 63.9 158.4 66.8 160.4 71.9 161.4 75.0 162.4 79.0 169.4 111.9 171.4 122.9 173.4 135.7 177.4 166.9 204.4 399.2 210.9 447.4 212.9 460.9 214.9 472.7 216.9 481.9 219.4 490.1 222.4 498.0 226.4 506.5 231.4 515.8 234.9 521.2 236.4 523.0 238.4 524.8 240.9 526.8 243.4 528.3 246.9 529.9 252.9 531.3 257.4 531.9 261.4 531.9 263.9 531.5 266.9 530.8 278.4 527.2 293.9 523.9 312.4 521.0 317.4 520.5 322.4 520.5 328.9 520.8 336.9 521.4 344.4 522.1 349.4 522.9 356.4 524.5 389.9 533.5 399.9 535.6 409.4 536.9 419.9 538.1 441.9 540.1 451.4 540.8 458.4 541.0 463.4 540.9 468.9 540.3 485.9 538.2 502.9 537.7 518.4 537.5 536.9 537.6 563.4 538.1 590.4 538.9 601.9 539.0 623.4 538.4 646.4 537.0" stroke="#d433d2" stroke-width="1.10" fill="none" stroke-linejoin="round" opacity="0.80"/>
<path d="M37.5 217.0L43.5 224.6 50.0 233.6 59.0 247.6 66.5 258.5 69.5 262.0 75.0 267.1 77.0 268.7 79.0 269.9 81.0 270.5 82.5 270.4 84.0 269.7 85.5 268.6 87.5 266.5 90.5 262.8 93.0 258.3 99.0 244.5 100.9 240.9 104.4 235.2 106.4 231.4 108.4 226.6 109.4 223.3 111.3 213.8 119.8 166.0 126.2 134.6 129.7 116.4 132.7 104.0 137.2 88.1 141.7 74.9 143.2 71.0 144.7 67.8 147.5 63.1 149.3 60.9 150.2 60.3 150.7 60.3 152.5 60.8 155.3 62.8 156.8 64.8 158.8 69.2 160.8 75.0 168.3 109.4 170.3 120.0 172.3 132.3 174.3 146.7 176.8 166.9 203.8 399.2 210.3 447.4 213.8 470.0 215.3 477.7 216.8 483.7 219.3 491.6 221.8 498.0 225.3 505.5 230.3 514.9 233.8 520.4 236.8 524.0 241.8 528.3 243.8 529.6 245.8 530.6 249.8 531.9 253.3 532.8 256.3 533.3 258.8 533.4 261.8 533.2 264.8 532.7 276.8 529.4 285.8 527.6 294.8 526.0 311.3 523.4 315.8 523.0 319.8 522.9 326.3 523.1 334.3 523.6 344.3 524.6 350.3 525.6 387.8 534.7 398.3 536.7 409.3 538.2 420.8 539.3 441.8 541.0 452.3 541.6 458.8 541.7 463.3 541.6 483.3 539.7 492.3 539.3 512.3 539.1 529.8 539.1 601.8 540.2 622.8 539.7 645.8 538.4" stroke="#7f35d0" stroke-width="1.10" fill="none" stroke-linejoin="round" opacity="0.80"/>
<path d="M37.5 234.0L43.5 239.5 49.5 245.5 59.0 256.2 66.0 263.5 69.5 266.6 74.5 270.4 76.5 271.7 78.5 272.5 80.0 272.8 81.5 272.6 83.0 272.0 84.5 271.1 86.5 269.4 90.0 265.8 91.0 264.5 93.5 259.8 99.1 246.8 106.3 233.1 108.4 228.1 110.0 223.2 111.5 216.2 115.1 197.3 120.8 166.0 127.0 137.1 130.9 116.4 134.4 102.1 137.4 91.4 139.9 83.4 142.9 74.9 144.9 69.9 146.4 67.0 148.2 64.6 150.8 61.8 152.7 60.5 153.4 60.3 154.7 60.3 155.9 60.6 157.9 61.4 160.3 62.8 161.8 64.8 163.8 69.2 165.8 75.0 173.3 109.4 175.3 120.0 177.3 132.3 179.3 146.7 181.8 166.9 208.8 399.2 215.3 447.4 217.3 460.9 219.3 472.7 221.3 481.9 223.3 488.6 225.8 495.6 228.8 502.4 233.8 512.1 237.8 518.8 241.3 523.4 245.8 528.2 248.8 530.8 251.8 532.5 255.8 534.0 258.8 534.8 261.8 535.4 264.3 535.5 270.3 534.9 283.8 532.0 317.3 526.9 323.8 526.5 335.3 526.9 348.3 528.0 354.3 528.9 391.8 536.7 403.3 538.7 414.8 540.0 426.3 541.0 455.8 542.6 467.8 542.7 486.3 541.7 493.3 541.5 531.3 541.5 609.8 542.0 628.3 541.5 650.8 540.5" stroke="#d9b343" stroke-width="1.10" fill="none" stroke-linejoin="round" opacity="0.80"/>
<path d="M37.5 240.0L43.5 244.9 49.5 250.3 59.0 259.9 66.0 266.5 69.5 269.2 74.5 272.6 76.5 273.8 78.5 274.6 80.0 274.8 81.5 274.6 83.0 274.0 84.5 273.1 86.5 271.4 90.0 267.8 91.0 266.5 93.5 261.9 99.1 248.8 105.8 235.0 108.3 228.2 109.9 223.0 111.4 216.1 115.0 197.3 120.6 166.0 126.8 137.1 130.8 116.4 134.2 102.1 139.2 84.9 143.8 72.3 145.2 68.8 146.8 66.2 149.8 62.4 151.0 61.3 152.3 60.5 152.9 60.3 154.1 60.3 155.3 60.6 157.2 61.4 159.5 62.8 161.0 64.8 163.0 69.2 165.0 75.0 172.5 109.4 174.5 120.0 176.5 132.3 178.5 146.7 181.0 166.9 208.0 399.2 214.5 447.4 216.5 460.9 218.5 472.7 220.5 481.9 222.5 488.6 225.0 495.6 228.0 502.4 232.5 511.2 237.0 518.7 240.5 523.4 246.0 529.5 249.5 532.4 253.5 534.3 259.0 536.1 261.5 536.5 263.5 536.5 269.0 536.1 282.5 533.6 304.0 530.7 317.0 528.7 323.0 528.3 333.5 528.7 347.5 529.8 353.0 530.6 389.5 537.6 402.0 539.6 414.0 540.9 425.5 541.8 453.0 543.1 466.5 543.2 492.5 542.6 556.5 542.9 607.5 542.9 626.0 542.5 650.0 541.5" stroke="#a5e472" stroke-width="1.10" fill="none" stroke-linejoin="round" opacity="0.80"/>
<path d="M37.5 243.0L43.5 248.2 49.5 253.8 59.0 263.8 66.0 270.7 69.5 273.6 74.5 277.1 76.5 278.3 78.5 279.2 80.0 279.4 81.5 279.2 83.0 278.6 85.0 277.3 87.0 275.5 90.0 272.4 91.5 270.4 94.5 264.4 103.1 243.5 106.2 235.1 109.2 224.9 111.3 215.8 114.3 200.0 120.4 166.0 126.5 137.1 130.5 116.4 133.5 104.0 138.0 88.1 140.0 81.9 143.5 72.3 145.0 68.8 146.5 66.2 149.4 62.4 151.1 60.9 152.2 60.3 152.8 60.3 154.0 60.5 155.7 61.1 158.5 62.8 160.0 64.8 162.0 69.2 164.0 75.0 171.5 109.4 173.5 120.0 175.5 132.3 177.5 146.7 180.0 166.9 207.0 399.2 213.5 447.4 215.5 460.9 217.5 472.7 219.5 481.9 221.5 488.6 224.5 496.8 227.5 503.5 232.0 512.1 236.0 518.6 239.5 523.4 243.5 528.2 246.0 531.0 249.0 533.4 253.5 535.6 258.0 537.1 260.0 537.5 262.0 537.6 268.5 537.1 281.0 535.1 303.0 532.5 317.0 530.4 322.5 530.1 332.0 530.4 346.0 531.6 351.5 532.3 387.0 538.6 400.5 540.5 423.5 542.6 448.0 543.6 461.0 543.8 493.0 543.6 523.0 543.9 579.5 544.0 614.5 543.6 649.0 542.6" stroke="#5cc25c" stroke-width="1.10" fill="none" stroke-linejoin="round" opacity="0.80"/>
<path d="M37.5 246.0L43.5 251.5 49.5 257.5 59.0 268.3 66.0 275.6 69.5 278.7 74.5 282.5 76.5 283.8 78.5 284.6 80.0 284.9 81.5 284.7 83.0 284.1 85.0 282.8 87.0 281.0 90.0 277.9 91.5 275.9 93.0 273.3 95.0 269.0 100.5 254.8 104.6 242.0 108.6 226.8 111.1 215.5 114.1 200.0 120.7 163.4 126.2 137.1 130.2 116.4 132.7 105.9 136.7 91.4 139.2 83.4 141.7 76.3 143.7 71.0 145.2 67.8 148.3 63.1 150.4 60.9 151.5 60.3 152.0 60.3 153.1 60.5 154.7 61.1 157.3 62.8 158.8 64.8 160.8 69.2 162.8 75.0 170.3 109.4 172.3 120.0 174.3 132.3 176.3 146.7 178.8 166.9 205.8 399.2 212.3 447.4 214.3 460.9 216.3 472.7 218.3 481.9 220.3 488.6 223.3 496.8 226.3 503.5 230.3 511.2 234.3 517.7 241.8 527.9 245.8 532.7 248.3 534.7 252.8 537.0 256.3 538.3 259.8 539.0 263.3 538.9 267.3 538.6 279.8 537.1 300.3 535.1 316.3 532.7 319.8 532.5 324.8 532.6 334.8 533.1 348.8 534.4 369.8 537.9 387.3 540.4 396.8 541.6 415.8 543.2 430.3 544.0 520.8 545.5 574.8 545.4 647.8 544.0" stroke="#4a5dc4" stroke-width="1.10" fill="none" stroke-linejoin="round" opacity="0.80"/>
<path d="M37.7 164.0L43.7 177.1 48.2 186.1 50.2 190.8 52.2 196.7 57.2 214.8 59.7 222.6 63.7 231.7 68.2 240.1 71.7 245.4 75.2 249.5 78.7 252.5 83.2 255.4 85.2 256.4 87.2 256.7 89.2 256.0 91.7 254.3 94.2 252.0 96.2 249.5 98.7 245.4 101.7 239.5 103.7 234.6 106.2 227.5 111.2 211.0 113.7 201.0 120.2 172.0 126.7 134.6 130.7 114.1 132.7 105.9 135.2 96.7 137.7 88.1 140.2 80.5 142.7 73.5 144.7 68.8 147.7 63.8 149.7 61.3 151.2 60.3 152.2 60.3 153.2 60.6 154.7 61.4 156.7 62.8 158.2 64.8 159.7 67.9 161.7 73.3 163.2 79.0 170.7 114.6 172.7 125.9 174.7 139.2 178.2 166.9 205.2 399.2 211.7 447.4 213.7 460.9 215.7 472.7 217.7 481.9 220.2 490.1 223.2 498.0 226.7 505.5 231.7 514.9 235.7 521.1 237.7 523.5 240.7 526.5 242.7 528.3 244.7 529.8 247.2 530.9 250.7 530.9 260.7 529.4 266.2 528.2 282.7 523.2 311.2 512.8 316.7 511.3 320.7 510.8 337.7 510.8 342.2 511.4 347.2 512.9 357.7 517.0 367.2 521.7 371.2 523.4 383.2 527.9 392.7 530.8 401.7 532.9 411.7 534.8 429.7 537.3 438.2 538.2 442.7 538.5 447.7 538.5 465.7 538.0 471.2 537.5 483.7 535.6 488.7 535.1 504.2 534.3 516.7 534.0 534.2 534.2 561.2 535.0 587.7 536.6 597.2 537.0 625.7 536.8 647.2 536.0" stroke="#5a5a5a" stroke-width="1.10" fill="none" stroke-linejoin="round" opacity="0.80"/>
</g>
<line x1="129.5" y1="33.3" x2="129.5" y2="566.3" stroke="#ee7d31" stroke-width="2"/>
<g stroke-width="2.5" fill="none">
<path d="M173.4 129.2L398.5 120" stroke="#70ad47"/>
<path d="M398.5 115.2L407.2 119.5L398.5 123.9Z" fill="#70ad47" stroke="none"/>
<path d="M130 258L422 248.6" stroke="#ee7d31"/>
<path d="M422 244.1L430.9 248.4L422 252.8Z" fill="#ee7d31" stroke="none"/>
<path d="M151.4 358.7L438.5 352.6" stroke="#70ad47"/>
<path d="M438.8 348L447.6 352.3L438.8 356.7Z" fill="#70ad47" stroke="none"/>
<path d="M160 484.8L468 478.6" stroke="#70ad47"/>
<path d="M468.6 474.1L477.5 478.4L468.6 482.8Z" fill="#70ad47" stroke="none"/>
</g>
<g fill="#fff" stroke="#000" stroke-width="2.2">
<rect x="421.7" y="102.3" width="118.6" height="45.4"/>
<rect x="449" y="215.2" width="118" height="42.6"/>
<rect x="457" y="331.4" width="131.5" height="47.6"/>
<rect x="502.6" y="451.9" width="92.9" height="47"/>
</g>
<text class="bx" x="439.2" y="139.3" font-size="32.5" textLength="83" lengthAdjust="spacingAndGlyphs">EMPA</text>
<text class="bx" x="460.9" y="251.6" font-size="31" textLength="87.8" lengthAdjust="spacingAndGlyphs">223 nm</text>
<text class="bx" x="487.3" y="368.4" font-size="32.5" textLength="70.3" lengthAdjust="spacingAndGlyphs">LINA</text>
<text class="bx" x="513.5" y="488" font-size="32.5" textLength="64.6" lengthAdjust="spacingAndGlyphs">MET</text>
</svg>
</body></html>
